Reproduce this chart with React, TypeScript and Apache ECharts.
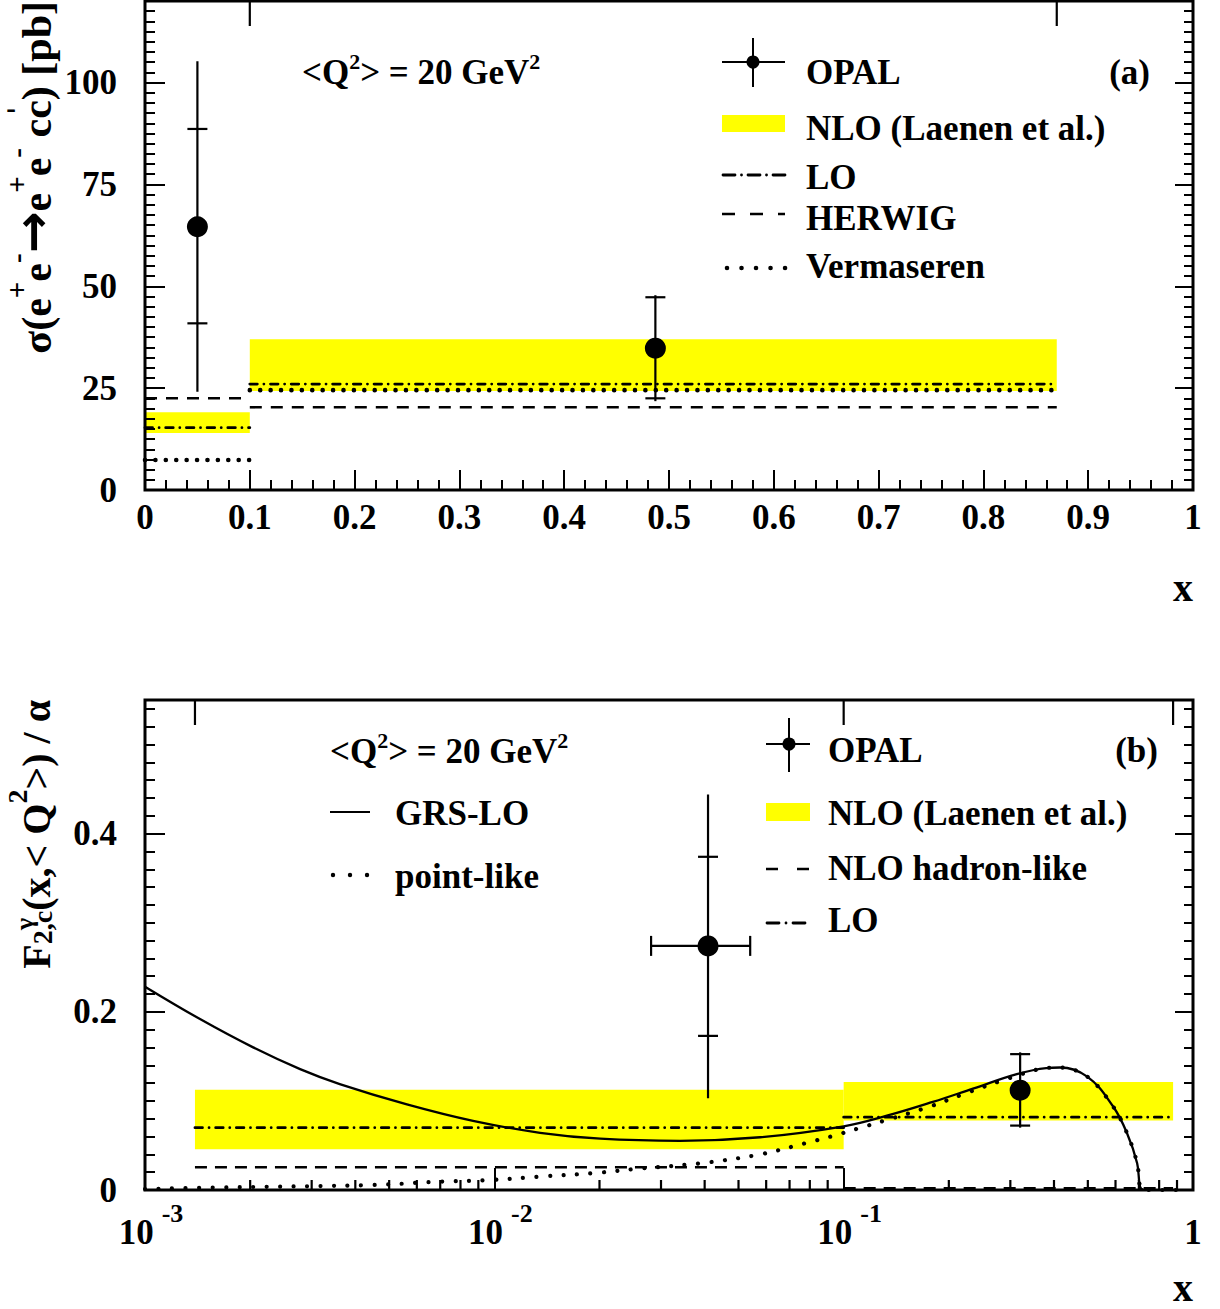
import React, { useEffect, useRef } from 'react';
import * as echarts from 'echarts';

const FONT = '"Liberation Serif", "Times New Roman", Times, serif';
const YELLOW = '#ffff00';

// ---------------- Panel (a): sigma(e+e- -> e+e- c cbar) ----------------
const binEdgesA = [0, 0.1, 0.87];
const nloLowA = [14.0, 24.3];
const nloHighA = [19.1, 37.0];
const loA = [15.3, 26.0];
const herwigA = [22.5, 20.3];
const vermaserenA = [7.35, 24.5];
const opalXA = [0.05, 0.487];
const opalYA = [64.6, 34.8];
const opalTotLowA = [24.1, 21.8];
const opalTotHighA = [105.2, 47.8];
const opalStatLowA = [40.9, 22.5];
const opalStatHighA = [88.6, 47.3];
const yMaxA = 120;

// ---------------- Panel (b): F2,c / alpha ----------------
const binEdgesB = [0.00139, 0.1, 0.877];
const nloLowB = [0.0457, 0.0779];
const nloHighB = [0.1124, 0.1213];
const loB = [0.07, 0.0817];
const hadronLikeB = [0.0255, 0.002];
const opalXB = [0.0409, 0.32];
const opalYB = [0.274, 0.112];
const opalTotLowB = [0.103, 0.07];
const opalTotHighB = [0.444, 0.1545];
const opalStatLowB = [0.173, 0.0723];
const opalStatHighB = [0.374, 0.1525];
const opalXLowB = [0.0281, 0.32];
const opalXHighB = [0.054, 0.32];
const yMaxB = 0.55;

const grsX = [0.001, 0.001437, 0.00204, 0.00278, 0.00361, 0.00562, 0.00869, 0.01352, 0.0201, 0.034, 0.0577, 0.1, 0.133, 0.18, 0.2345, 0.313, 0.38, 0.416, 0.498, 0.59, 0.647, 0.692, 0.705, 0.72];
const grsY = [0.2282, 0.1919, 0.1601, 0.1357, 0.1189, 0.0961, 0.0776, 0.0642, 0.0576, 0.0552, 0.0592, 0.0715, 0.0834, 0.0989, 0.1138, 0.1301, 0.1369, 0.1375, 0.1273, 0.094, 0.064, 0.03, 0.004, 0];
const pointLikeX = [0.001, 0.0015, 0.0045, 0.007, 0.0095, 0.0135, 0.02, 0.026, 0.039, 0.0577, 0.0785, 0.0932, 0.1113, 0.133, 0.173, 0.2254, 0.2936, 0.38, 0.416, 0.498, 0.59, 0.647, 0.692, 0.705, 0.72, 0.95];
const pointLikeY = [0.001, 0.0026, 0.0056, 0.0094, 0.011, 0.015, 0.0195, 0.024, 0.03, 0.04, 0.053, 0.0607, 0.0697, 0.0787, 0.0925, 0.109, 0.1247, 0.1369, 0.1375, 0.1273, 0.094, 0.064, 0.03, 0.004, 0, 0];

const logMinorTicks = [
  0.002, 0.003, 0.004, 0.005, 0.006, 0.007, 0.008, 0.009,
  0.02, 0.03, 0.04, 0.05, 0.06, 0.07, 0.08, 0.09,
  0.2, 0.3, 0.4, 0.5, 0.6, 0.7, 0.8, 0.9,
];

// ---------------- styles ----------------
const txt = { fontWeight: 'bold' as const, fontFamily: FONT, color: '#000' };
const axisText = { ...txt, fontSize: 35 };

const LO_STYLE = { color: '#000', width: 2.8, type: [7.5, 6.6, 0.01, 6.6], cap: 'round' };
const HERWIG_STYLE = { color: '#000', width: 2.6, type: [12, 9] };
const VERM_STYLE = { color: '#000', width: 4.6, type: [0.01, 10.4], cap: 'round' };
const HADRON_STYLE = { color: '#000', width: 2.6, type: [12, 8] };
const POINTLIKE_STYLE = { color: '#000', width: 4.2, type: [0.01, 13.5], cap: 'round' };
const GRS_STYLE = { color: '#000', width: 2.3, type: 'solid' };

function yAxisDef(gridIndex: number, position: string, max: number, interval: number, len: number, fmt?: (v: number) => string) {
  return {
    gridIndex, type: 'value', position, min: 0, max, interval, z: 5,
    axisLine: { show: false },
    splitLine: { show: false },
    axisTick: { show: true, inside: true, length: len, lineStyle: { color: '#000', width: 2 } },
    axisLabel: fmt ? { show: true, margin: 28, ...axisText, formatter: fmt } : { show: false },
  };
}

function bandSeries(edges: number[], lo: number[], hi: number[], xi: number, yi: number) {
  return {
    type: 'custom', xAxisIndex: xi, yAxisIndex: yi, z: 1, silent: true, clip: false,
    data: lo.map((l, i) => [edges[i], edges[i + 1], l, hi[i]]),
    encode: { x: [0, 1], y: [2, 3] },
    renderItem: (_p: any, api: any) => {
      const a = api.coord([api.value(0), api.value(3)]);
      const b = api.coord([api.value(1), api.value(2)]);
      return { type: 'rect', shape: { x: a[0], y: a[1], width: b[0] - a[0], height: b[1] - a[1] }, style: { fill: YELLOW } };
    },
  };
}

function stepSeries(edges: number[], vals: number[], xi: number, yi: number, lineStyle: any) {
  return vals.map((v, i) => ({
    type: 'line', xAxisIndex: xi, yAxisIndex: yi, z: 6, silent: true, clip: false,
    symbol: 'none', showSymbol: false,
    data: [[edges[i], v], [edges[i + 1], v]],
    lineStyle,
  }));
}

function seg(x1: number, y1: number, x2: number, y2: number) {
  return { type: 'line', shape: { x1, y1, x2, y2 }, style: { stroke: '#000', lineWidth: 2.2 } };
}

function errorSeries(xs: number[], ys: number[], tl: number[], th: number[], sl: number[], sh: number[], xl: number[] | null, xh: number[] | null, xi: number, yi: number) {
  return {
    type: 'custom', xAxisIndex: xi, yAxisIndex: yi, z: 8, silent: true, clip: false,
    data: xs.map((x, i) => [x, ys[i], tl[i], th[i], sl[i], sh[i], xl ? xl[i] : x, xh ? xh[i] : x]),
    encode: { x: 0, y: 1 },
    renderItem: (_p: any, api: any) => {
      const x = api.value(0);
      const top = api.coord([x, api.value(3)]);
      const bot = api.coord([x, api.value(2)]);
      const sHi = api.coord([x, api.value(5)]);
      const sLo = api.coord([x, api.value(4)]);
      const children: any[] = [
        seg(top[0], top[1], bot[0], bot[1]),
        seg(sHi[0] - 10, sHi[1], sHi[0] + 10, sHi[1]),
        seg(sLo[0] - 10, sLo[1], sLo[0] + 10, sLo[1]),
      ];
      const x0 = api.value(6);
      const x1 = api.value(7);
      if (x1 > x0) {
        const c = api.coord([x0, api.value(1)]);
        const d = api.coord([x1, api.value(1)]);
        children.push(seg(c[0], c[1], d[0], d[1]));
        children.push(seg(c[0], c[1] - 10, c[0], c[1] + 10));
        children.push(seg(d[0], d[1] - 10, d[0], d[1] + 10));
      }
      return { type: 'group', children };
    },
  };
}

function edgeMarkSeries(edges: number[], ymax: number, xi: number, yi: number) {
  return {
    type: 'custom', xAxisIndex: xi, yAxisIndex: yi, z: 7, silent: true, clip: false,
    data: edges.map((e) => [e, ymax]),
    encode: { x: 0, y: 1 },
    renderItem: (_p: any, api: any) => {
      const c = api.coord([api.value(0), api.value(1)]);
      return seg(c[0], c[1], c[0], c[1] + 25);
    },
  };
}

function gText(x: number, y: number, text: string, extra: any = {}) {
  return {
    type: 'text', x, y, silent: true,
    style: { text, fontSize: 35, fontWeight: 'bold', fontFamily: FONT, fill: '#000', align: 'left', verticalAlign: 'middle', ...extra },
  };
}

function gLine(x1: number, y1: number, x2: number, y2: number, extra: any = {}) {
  return { type: 'line', silent: true, shape: { x1, y1, x2, y2 }, style: { stroke: '#000', lineWidth: 2, ...extra } };
}

const richQ = {
  m: { fontSize: 35, fontWeight: 'bold', fontFamily: FONT, fill: '#000', lineHeight: 40, verticalAlign: 'bottom' },
  s: { fontSize: 22, fontWeight: 'bold', fontFamily: FONT, fill: '#000', verticalAlign: 'top' },
};
const richTitleA = {
  m: { fontSize: 42, fontWeight: 'bold', fontFamily: FONT, fill: '#000', lineHeight: 56, verticalAlign: 'bottom' },
  s: { fontSize: 29, fontWeight: 'bold', fontFamily: FONT, fill: '#000', verticalAlign: 'top' },
  a: { fontSize: 50, fontWeight: 'bold', fontFamily: '"DejaVu Sans", sans-serif', fill: '#000', verticalAlign: 'bottom' },
};
const richTitleB = {
  m: { fontSize: 40, fontWeight: 'bold', fontFamily: FONT, fill: '#000', lineHeight: 53, verticalAlign: 'bottom' },
  s: { fontSize: 28, fontWeight: 'bold', fontFamily: FONT, fill: '#000', verticalAlign: 'top' },
  u: { fontSize: 28, fontWeight: 'bold', fontFamily: FONT, fill: '#000', verticalAlign: 'bottom' },
};

function buildOption() {
  const fmtA = (v: number) => (Math.abs(v / 25 - Math.round(v / 25)) < 1e-6 ? String(Math.round(v)) : '');
  const fmtB = (v: number) => {
    const r = Math.round(v / 0.2);
    if (Math.abs(v - r * 0.2) > 1e-6) return '';
    return r === 0 ? '0' : (r * 0.2).toFixed(1);
  };

  const series: any[] = [
    // panel a
    bandSeries(binEdgesA, nloLowA, nloHighA, 0, 0),
    ...stepSeries(binEdgesA, loA, 0, 0, LO_STYLE),
    ...stepSeries(binEdgesA, herwigA, 0, 0, HERWIG_STYLE),
    ...stepSeries(binEdgesA, vermaserenA, 0, 0, VERM_STYLE),
    errorSeries(opalXA, opalYA, opalTotLowA, opalTotHighA, opalStatLowA, opalStatHighA, null, null, 0, 0),
    {
      type: 'scatter', xAxisIndex: 0, yAxisIndex: 0, z: 9, silent: true, symbol: 'circle', symbolSize: 21,
      itemStyle: { color: '#000', opacity: 1 }, data: opalXA.map((x, i) => [x, opalYA[i]]),
    },
    edgeMarkSeries(binEdgesA.slice(1), yMaxA, 0, 0),
    // panel b
    bandSeries(binEdgesB, nloLowB, nloHighB, 1, 4),
    ...stepSeries(binEdgesB, loB, 1, 4, LO_STYLE),
    ...stepSeries(binEdgesB, hadronLikeB, 1, 4, HADRON_STYLE),
    {
      type: 'line', xAxisIndex: 1, yAxisIndex: 4, z: 6, silent: true, clip: false, symbol: 'none', showSymbol: false,
      smooth: 0.4, data: grsX.map((x, i) => [x, grsY[i]]), lineStyle: GRS_STYLE,
    },
    {
      type: 'line', xAxisIndex: 1, yAxisIndex: 4, z: 6, silent: true, clip: false, symbol: 'none', showSymbol: false,
      smooth: 0.35, data: pointLikeX.map((x, i) => [x, pointLikeY[i]]), lineStyle: POINTLIKE_STYLE,
    },
    errorSeries(opalXB, opalYB, opalTotLowB, opalTotHighB, opalStatLowB, opalStatHighB, opalXLowB, opalXHighB, 1, 4),
    {
      type: 'scatter', xAxisIndex: 1, yAxisIndex: 4, z: 9, silent: true, symbol: 'circle', symbolSize: 21,
      itemStyle: { color: '#000', opacity: 1 }, data: opalXB.map((x, i) => [x, opalYB[i]]),
    },
    edgeMarkSeries(binEdgesB, yMaxB, 1, 4),
    {
      type: 'custom', xAxisIndex: 1, yAxisIndex: 4, z: 7, silent: true, clip: false,
      data: logMinorTicks.map((v) => [v, 0]),
      encode: { x: 0, y: 1 },
      renderItem: (_p: any, api: any) => {
        const c = api.coord([api.value(0), 0]);
        return seg(c[0], c[1], c[0], c[1] - 10);
      },
    },
  ];

  const graphic: any[] = [
    // ---- panel a titles ----
    {
      type: 'text', x: 30, y: 1, rotation: Math.PI / 2, silent: true,
      style: { text: '{m|σ(e}{s|+}{m|e}{s|-}{a|→}{m|e}{s|+}{m|e}{s|-}{m| cc) [pb]}', rich: richTitleA, align: 'right', verticalAlign: 'middle' },
    },
    gText(11, 108, '-', { fontSize: 29, align: 'center' }),
    gText(1183, 587, 'x', { fontSize: 40, align: 'center' }),
    // ---- panel a legend ----
    { type: 'text', x: 302, y: 70, silent: true, style: { text: '{m|<Q}{s|2}{m|> = 20 GeV}{s|2}', rich: richQ, align: 'left', verticalAlign: 'middle' } },
    gLine(722, 62, 785, 62),
    gLine(753, 38, 753, 87),
    { type: 'circle', silent: true, shape: { cx: 753, cy: 62, r: 6.5 }, style: { fill: '#000' } },
    gText(806, 72, 'OPAL'),
    gText(1150, 72, '(a)', { align: 'right' }),
    { type: 'rect', silent: true, shape: { x: 722, y: 115, width: 63, height: 17 }, style: { fill: YELLOW } },
    gText(806, 128, 'NLO (Laenen et al.)'),
    gLine(723, 175, 785, 175, { lineWidth: 2.8, lineDash: [12, 6.5, 0.01, 6.5], lineCap: 'round' }),
    gText(806, 177, 'LO'),
    gLine(722, 214, 785, 214, { lineWidth: 2.6, lineDash: [13, 15] }),
    gText(806, 218, 'HERWIG'),
    gLine(727, 268, 785.5, 268, { lineWidth: 4.6, lineDash: [0.01, 14.5], lineCap: 'round' }),
    gText(806, 266, 'Vermaseren'),

    // ---- panel b titles ----
    {
      type: 'text', x: 30, y: 700, rotation: Math.PI / 2, silent: true,
      style: { text: '{m|F}{u|2,c}{m|(x,< Q}{s|2}{m|>) / α}', rich: richTitleB, align: 'right', verticalAlign: 'middle' },
    },
    { type: 'text', x: 24, y: 930, rotation: Math.PI / 2, silent: true, style: { text: 'γ', fontSize: 26, fontWeight: 'bold', fontFamily: FONT, fill: '#000', align: 'left', verticalAlign: 'middle' } },
    gText(1183, 1287, 'x', { fontSize: 40, align: 'center' }),
    // ---- panel b legend ----
    { type: 'text', x: 330, y: 749, silent: true, style: { text: '{m|<Q}{s|2}{m|> = 20 GeV}{s|2}', rich: richQ, align: 'left', verticalAlign: 'middle' } },
    gLine(330, 812, 370, 812, { lineWidth: 2.2 }),
    gText(395, 813, 'GRS-LO'),
    gLine(333, 875, 367.5, 875, { lineWidth: 4.4, lineDash: [0.01, 17], lineCap: 'round' }),
    gText(395, 876, 'point-like'),
    gLine(766, 744, 810, 744),
    gLine(789, 718, 789, 772),
    { type: 'circle', silent: true, shape: { cx: 789, cy: 744, r: 6.5 }, style: { fill: '#000' } },
    gText(828, 750, 'OPAL'),
    gText(1158, 750, '(b)', { align: 'right' }),
    { type: 'rect', silent: true, shape: { x: 766, y: 803, width: 44, height: 18 }, style: { fill: YELLOW } },
    gText(828, 813, 'NLO (Laenen et al.)'),
    gLine(766, 869, 810, 869, { lineWidth: 2.6, lineDash: [12, 19] }),
    gText(828, 868, 'NLO hadron-like'),
    gLine(767, 923, 810, 923, { lineWidth: 2.8, lineDash: [12, 7, 0.01, 7], lineCap: 'round' }),
    gText(828, 920, 'LO'),
  ];

  return {
    animation: false,
    backgroundColor: '#fff',
    grid: [
      { left: 145, top: 1, width: 1048, height: 489, show: true, borderColor: '#000', borderWidth: 3, backgroundColor: 'transparent', z: 5 },
      { left: 145, top: 700, width: 1048, height: 490, show: true, borderColor: '#000', borderWidth: 3, backgroundColor: 'transparent', z: 5 },
    ],
    xAxis: [
      {
        gridIndex: 0, type: 'value', position: 'bottom', min: 0, max: 1, interval: 0.1, z: 5,
        axisLine: { show: false }, splitLine: { show: false },
        axisTick: { show: true, inside: true, length: 20, lineStyle: { color: '#000', width: 2 } },
        minorTick: { show: true, splitNumber: 5, length: 10, lineStyle: { color: '#000', width: 2 } },
        axisLabel: { ...axisText, margin: 10, interval: 0, formatter: (v: number) => String(Math.round(v * 10) / 10) },
      },
      {
        gridIndex: 1, type: 'log', logBase: 10, position: 'bottom', min: 0.001, max: 1, z: 5,
        axisLine: { show: false }, splitLine: { show: false },
        axisTick: { show: true, inside: true, length: 22, lineStyle: { color: '#000', width: 2 } },
        axisLabel: {
          margin: 10, interval: 0,
          formatter: (v: number) => {
            const e = Math.round(Math.log10(v));
            return e === 0 ? '{one|1}' : `{b|10}{e|${e}}`;
          },
          rich: {
            b: { ...axisText, lineHeight: 50, verticalAlign: 'bottom', padding: [0, 0, 0, 12] },
            e: { ...txt, fontSize: 26, verticalAlign: 'top', padding: [0, 0, 0, 8] },
            one: { ...axisText, lineHeight: 50, verticalAlign: 'bottom' },
          },
        },
      },
    ],
    yAxis: [
      yAxisDef(0, 'left', yMaxA, 25, 20, fmtA),
      yAxisDef(0, 'left', yMaxA, 2.5, 10),
      yAxisDef(0, 'right', yMaxA, 25, 18),
      yAxisDef(0, 'right', yMaxA, 2.5, 9),
      yAxisDef(1, 'left', yMaxB, 0.2, 20, fmtB),
      yAxisDef(1, 'left', yMaxB, 0.02, 10),
      yAxisDef(1, 'right', yMaxB, 0.2, 18),
      yAxisDef(1, 'right', yMaxB, 0.02, 9),
    ],
    series,
    graphic,
  };
}

export default function App() {
  const ref = useRef<HTMLDivElement>(null);
  useEffect(() => {
    if (!ref.current) return;
    const chart = echarts.init(ref.current, null, { renderer: 'svg' });
    chart.setOption(buildOption() as any);
    return () => chart.dispose();
  }, []);
  return <div ref={ref} style={{ position: 'absolute', left: 0, top: 0, width: 1220, height: 1309, background: '#fff' }} />;
}
